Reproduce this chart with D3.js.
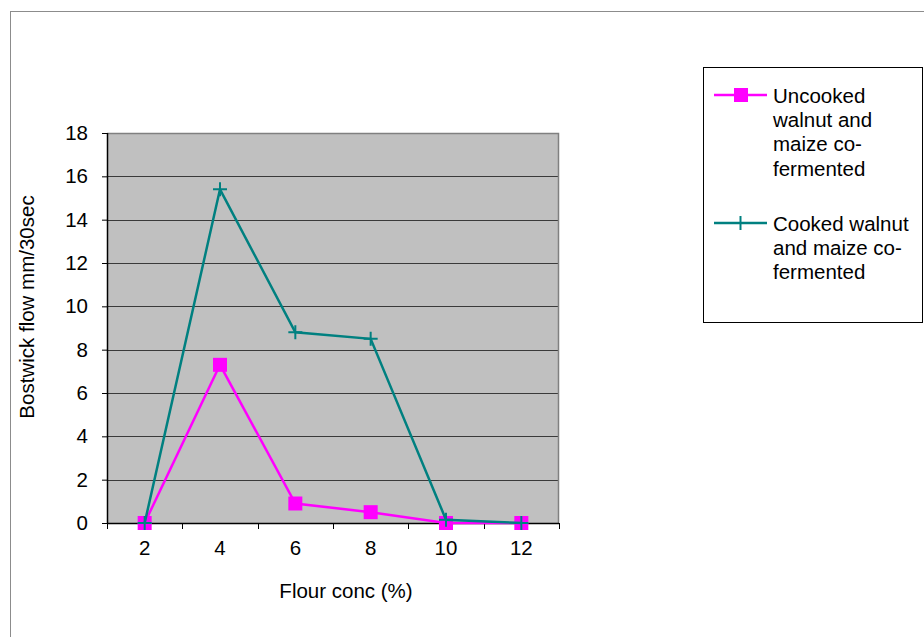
<!DOCTYPE html>
<html>
<head>
<meta charset="utf-8">
<script src="https://cdn.jsdelivr.net/npm/d3@7/dist/d3.min.js"></script>
<style>
  html, body { margin: 0; padding: 0; background: #fff; }
  svg { display: block; font-family: Arial, "Liberation Sans", sans-serif; }
</style>
</head>
<body>
<svg id="chart" width="924" height="637"></svg>
<script>
// Bostwick flow by flour concentration
const concentrations = ["2", "4", "6", "8", "10", "12"];
const uncookedFlow = [0, 7.3, 0.9, 0.5, 0, 0];
const cookedFlow = [0, 15.4, 8.8, 8.5, 0.15, 0];
const yTicks = [0, 2, 4, 6, 8, 10, 12, 14, 16, 18];
const seriesNames = ["Uncooked walnut and maize co-fermented", "Cooked walnut and maize co-fermented"];
const legendLines = [["Uncooked", "walnut and", "maize co-", "fermented"], ["Cooked walnut", "and maize co-", "fermented"]];

const FONT = 20.5;
const svg = d3.select("#chart");

// outer chart frame (runs past the right and bottom edges)
svg.append("rect")
  .attr("x", 10.5).attr("y", 11.5)
  .attr("width", 1000).attr("height", 1000)
  .attr("fill", "#fff").attr("stroke", "#8c8c8c").attr("stroke-width", 1);

const plot = { left: 107, top: 133, right: 559, bottom: 523 };

const x = d3.scaleBand().domain(concentrations).range([plot.left, plot.right]);
const y = d3.scaleLinear().domain([0, 18]).range([plot.bottom, plot.top]);

// plot background
svg.append("rect")
  .attr("x", plot.left).attr("y", plot.top)
  .attr("width", plot.right - plot.left).attr("height", plot.bottom - plot.top)
  .attr("fill", "#c0c0c0");

// horizontal gridlines
svg.append("g").selectAll("line")
  .data(yTicks.filter(d => d > 0 && d < 18))
  .join("line")
  .attr("x1", plot.left).attr("x2", plot.right)
  .attr("y1", d => Math.round(y(d)) + 0.5).attr("y2", d => Math.round(y(d)) + 0.5)
  .attr("stroke", "#3a3a3a").attr("stroke-width", 1);

// top and right border of plot area
svg.append("path")
  .attr("d", `M${plot.left},${plot.top + 0.5}H${plot.right - 0.5}V${plot.bottom}`)
  .attr("fill", "none").attr("stroke", "#808080").attr("stroke-width", 1.5);

// y axis
const yAxis = svg.append("g")
  .attr("transform", `translate(${plot.left},0)`)
  .call(d3.axisLeft(y).tickValues(yTicks).tickSize(5).tickPadding(14).tickFormat(d3.format("d")));
yAxis.select(".domain").attr("stroke", "#000").attr("stroke-width", 1.5).attr("d", `M0.5,${plot.top}V${plot.bottom}`);
yAxis.selectAll(".tick line").attr("stroke", "#000");
yAxis.selectAll(".tick text").attr("font-size", FONT).attr("fill", "#000").attr("font-family", "Arial, 'Liberation Sans', sans-serif");

// x axis: ticks at band boundaries, labels at band centres
const xAxisG = svg.append("g").attr("transform", `translate(0,${plot.bottom})`);
xAxisG.append("line")
  .attr("x1", plot.left).attr("x2", plot.right)
  .attr("y1", 0.5).attr("y2", 0.5)
  .attr("stroke", "#000").attr("stroke-width", 1.5);
const boundaries = concentrations.map(c => x(c)).concat([x.range()[1]]);
xAxisG.selectAll("line.tick")
  .data(boundaries)
  .join("line").attr("class", "tick")
  .attr("x1", d => Math.round(d) + 0.5).attr("x2", d => Math.round(d) + 0.5)
  .attr("y1", 0).attr("y2", 6)
  .attr("stroke", "#000");
xAxisG.selectAll("text")
  .data(concentrations)
  .join("text")
  .attr("x", d => x(d) + x.bandwidth() / 2)
  .attr("y", 32)
  .attr("text-anchor", "middle")
  .attr("font-size", FONT)
  .text(d => d);

// axis titles
svg.append("text")
  .attr("x", 346).attr("y", 598)
  .attr("text-anchor", "middle").attr("font-size", FONT)
  .text("Flour conc (%)");
svg.append("text")
  .attr("transform", `translate(34,307) rotate(-90)`)
  .attr("text-anchor", "middle").attr("font-size", FONT)
  .text("Bostwick flow mm/30sec");

const cx = d => x(d) + x.bandwidth() / 2;
const line = d3.line().x((d, i) => cx(concentrations[i])).y(d => y(d));
const plusPath = (px, py) => `M${px - 7},${py}H${px + 7}M${px},${py - 7}V${py + 7}`;

// uncooked series
svg.append("path").datum(uncookedFlow)
  .attr("d", line).attr("fill", "none")
  .attr("stroke", "#ff00ff").attr("stroke-width", 2.5);
svg.append("g").selectAll("rect")
  .data(uncookedFlow)
  .join("rect")
  .attr("x", (d, i) => cx(concentrations[i]) - 7)
  .attr("y", d => y(d) - 7)
  .attr("width", 14).attr("height", 14)
  .attr("fill", "#ff00ff");

// cooked series, drawn on top
svg.append("path").datum(cookedFlow)
  .attr("d", line).attr("fill", "none")
  .attr("stroke", "#008080").attr("stroke-width", 2.5);
svg.append("g").selectAll("path")
  .data(cookedFlow)
  .join("path")
  .attr("d", (d, i) => plusPath(cx(concentrations[i]), y(d)))
  .attr("stroke", "#008080").attr("stroke-width", 2);

// legend
const legend = svg.append("g");
legend.append("rect")
  .attr("x", 703.5).attr("y", 67.5).attr("width", 219).attr("height", 255)
  .attr("fill", "#fff").attr("stroke", "#000").attr("stroke-width", 1);

const legendY = [95, 223];
const colors = ["#ff00ff", "#008080"];
seriesNames.forEach((name, i) => {
  const g = legend.append("g").attr("class", "legend-item").attr("data-series", name);
  g.append("line")
    .attr("x1", 714).attr("x2", 767)
    .attr("y1", legendY[i]).attr("y2", legendY[i])
    .attr("stroke", colors[i]).attr("stroke-width", 2.5);
  if (i === 0) {
    g.append("rect").attr("x", 734).attr("y", legendY[i] - 7)
      .attr("width", 14).attr("height", 14).attr("fill", colors[i]);
  } else {
    g.append("path")
      .attr("d", `M740.5,${legendY[i] - 7}V${legendY[i] + 7}`)
      .attr("stroke", colors[i]).attr("stroke-width", 2);
  }
  const t = g.append("text").attr("font-size", FONT).attr("x", 773).attr("y", legendY[i] + 7.5);
  legendLines[i].forEach((ln, j) => {
    t.append("tspan").attr("x", 773).attr("dy", j === 0 ? 0 : 24.4).text(ln);
  });
});
</script>
</body>
</html>
